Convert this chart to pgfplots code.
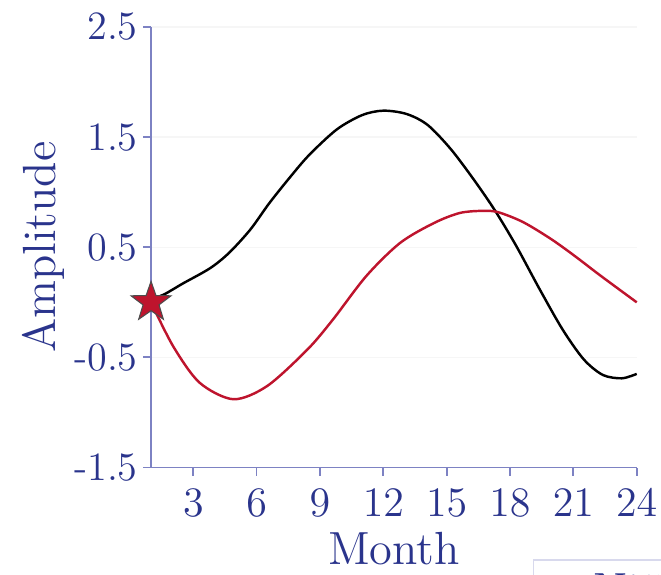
\documentclass[border=0pt]{standalone}
\usepackage{pgfplots}
\pgfplotsset{compat=1.18}

\definecolor{tickblue}{RGB}{42,52,140}
\definecolor{axisblue}{RGB}{125,130,195}
\definecolor{curvered}{RGB}{190,20,45}

% filled five-pointed star
\pgfdeclareplotmark{fstar}{%
  \pgfpathmoveto{\pgfpointpolar{90}{\pgfplotmarksize}}%
  \pgfpathlineto{\pgfpointpolar{126}{0.4\pgfplotmarksize}}%
  \pgfpathlineto{\pgfpointpolar{162}{\pgfplotmarksize}}%
  \pgfpathlineto{\pgfpointpolar{198}{0.4\pgfplotmarksize}}%
  \pgfpathlineto{\pgfpointpolar{234}{\pgfplotmarksize}}%
  \pgfpathlineto{\pgfpointpolar{270}{0.4\pgfplotmarksize}}%
  \pgfpathlineto{\pgfpointpolar{306}{\pgfplotmarksize}}%
  \pgfpathlineto{\pgfpointpolar{342}{0.4\pgfplotmarksize}}%
  \pgfpathlineto{\pgfpointpolar{18}{\pgfplotmarksize}}%
  \pgfpathlineto{\pgfpointpolar{54}{0.4\pgfplotmarksize}}%
  \pgfpathclose
  \pgfusepathqfillstroke
}

\begin{document}
\begin{tikzpicture}
\begin{axis}[
  width=138.9pt, height=126pt, scale only axis,
  xmin=1, xmax=24, ymin=-1.5, ymax=2.5,
  xtick={3,6,...,24},
  ytick={-1.5,-0.5,0.5,1.5,2.5},
  yticklabels={-1.5,-0.5,0.5,1.5,2.5},
  axis lines*=left,
  axis line style={axisblue, line width=0.5pt},
  tick style={axisblue, line width=0.5pt},
  tick align=outside,
  major tick length=2.3pt,
  ymajorgrids, grid style={gray!7, line width=0.4pt},
  ticklabel style={tickblue, font=\fontsize{11.5}{13}\selectfont},
  yticklabel style={xshift=2pt},
  xticklabel style={yshift=-0.5pt},
  label style={tickblue, font=\fontsize{13.3}{15}\selectfont},
  xlabel={Month}, ylabel={Amplitude},
  xlabel style={yshift=2.5pt},
  ylabel style={yshift=-4pt},
  clip=false,
  legend style={at={(rel axis cs:0.786,-0.2086)}, anchor=north west,
    draw=axisblue!30, text=tickblue, legend cell align=left,
    font=\fontsize{13.3}{15}\selectfont},
  legend image code/.code={\draw[#1] (0cm,0cm) -- (0.4cm,0cm);},
]
\addplot[black, line width=0.7pt, smooth] coordinates {
(1,0.03)(1.6,0.07)(2.5,0.17)(3.8,0.31)(4.7,0.45)(5.7,0.66)(6.6,0.90)(7.6,1.14)
(8.5,1.34)(9.8,1.57)(11,1.70)(12,1.74)(13.1,1.71)(14.1,1.61)(15.2,1.39)
(16.3,1.11)(17.3,0.83)(18.3,0.51)(19.4,0.12)(20.5,-0.25)(21.5,-0.52)
(22.4,-0.66)(23.3,-0.69)(24,-0.65)};
\addlegendentry{Niño 3.4}
\addplot[curvered, line width=0.7pt, smooth] coordinates {
(1,0.0)(2.05,-0.40)(3.3,-0.73)(4.9,-0.88)(6.5,-0.76)(8.4,-0.43)(9.6,-0.16)
(11.2,0.24)(12.8,0.54)(14.4,0.72)(15.6,0.81)(16.6,0.83)(17.4,0.82)(18.6,0.73)
(19.9,0.58)(21,0.43)(22.3,0.24)(24,0.0)};
\addlegendentry{Forecast}
\addplot[only marks, mark=fstar, mark size=6pt,
  mark options={fill=curvered, draw=black!70, line width=0.3pt}] coordinates {(1,0)};
\coordinate (bbl) at (rel axis cs:-0.311,-0.2426);
\coordinate (btr) at (rel axis cs:1.05,1.0612);
\end{axis}
\pgfresetboundingbox
\useasboundingbox (bbl) rectangle (btr);
\end{tikzpicture}
\end{document}
